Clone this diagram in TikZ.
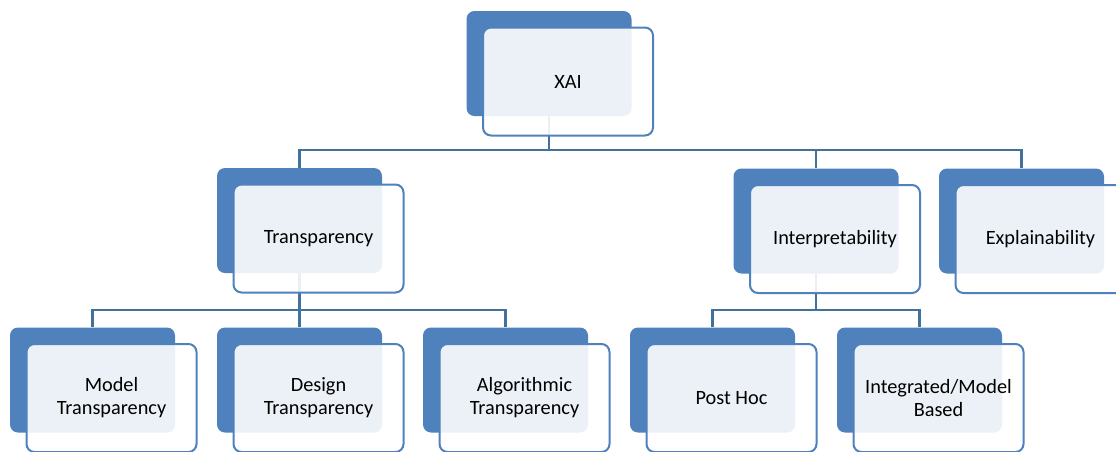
\documentclass[tikz,border=0pt]{standalone}
\usepackage{fontspec}
\setmainfont{Carlito}
\usepackage{xcolor}
\usepackage{tikz}
\usetikzlibrary{positioning}

\definecolor{boxblue}{HTML}{4F81BD}
\definecolor{linkblue}{HTML}{41719C}

\begin{document}
\begin{tikzpicture}[
		x=1pt, y=-1pt,
		back/.style={rectangle, rounded corners=8pt, fill=boxblue, minimum width=165pt, minimum height=105pt, inner sep=0pt},
		front/.style={rectangle, rounded corners=8pt, draw=boxblue, line width=2pt, fill=white, fill opacity=0.89, text opacity=1, minimum width=170pt, minimum height=108pt, align=center, font=\fontsize{20.3}{23}\selectfont},
		link/.style={draw=linkblue, line width=2.5pt}
		]
		\clip (0,0) rectangle (1116,451);
		% Back plates
		\node[back] (xaib) at (549,63.5) {};
		\node[back] (transb) at (299.5,220.5) {};
		\node[back] (interpb) at (816,221) {};
		\node[back] (explb) at (1021.5,221) {};
		\node[back] (modelb) at (92.5,380) {};
		\node[back] (designb) at (299.5,380) {};
		\node[back] (algob) at (505.5,380) {};
		\node[back] (posthocb) at (712.5,380) {};
		\node[back] (integb) at (919.5,380) {};
		
		% Links
		\coordinate (top) at (549,150);
		\coordinate (mid1) at (299.5,310);
		\coordinate (mid2) at (816,310);
		\draw[link] (xaib.south) -- (top);
		\draw[link] (transb.north) |- (top);
		\draw[link] (interpb.north) |- (top);
		\draw[link] (explb.north) |- (top);
		\draw[link] (transb.south) -- (mid1);
		\draw[link] (modelb.north) |- (mid1);
		\draw[link] (designb.north) -- (mid1);
		\draw[link] (algob.north) |- (mid1);
		\draw[link] (interpb.south) -- (mid2);
		\draw[link] (posthocb.north) |- (mid2);
		\draw[link] (integb.north) |- (mid2);
		
		% Front boxes
		\node[front] (xai) at ([shift={(19,18)}]xaib.center) {XAI};
		\node[front] (trans) at ([shift={(19,18)}]transb.center) {Transparency};
		\node[front] (interp) at ([shift={(19,18)}]interpb.center) {Interpretability};
		\node[front] (expl) at ([shift={(19,18)}]explb.center) {Explainability};
		\node[front] (model) at ([shift={(19,18)}]modelb.center) {Model\\Transparency};
		\node[front] (design) at ([shift={(19,18)}]designb.center) {Design\\Transparency};
		\node[front] (algo) at ([shift={(19,18)}]algob.center) {Algorithmic\\Transparency};
		\node[front] (posthoc) at ([shift={(19,18)}]posthocb.center) {Post Hoc};
		\node[front] (integ) at ([shift={(19,18)}]integb.center) {Integrated/Model\\Based};
	\end{tikzpicture}
\end{document}
